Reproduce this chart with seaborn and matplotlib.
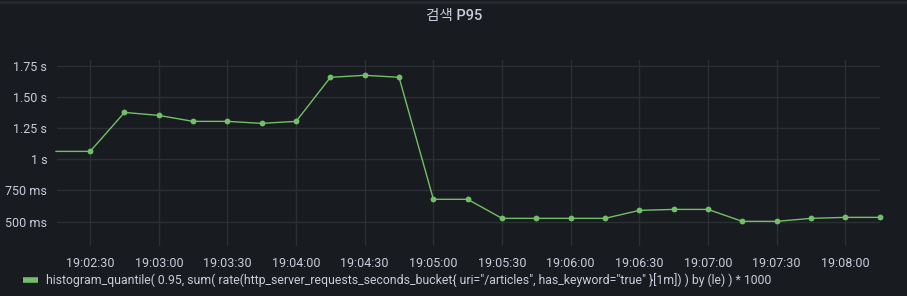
import matplotlib
matplotlib.use("Agg")
import matplotlib.pyplot as plt
import matplotlib.dates as mdates
from matplotlib.lines import Line2D
import seaborn as sns
import pandas as pd

# ---- data ----
times = ["19:02:15", "19:02:30", "19:02:45", "19:03:00", "19:03:15", "19:03:30",
         "19:03:45", "19:04:00", "19:04:15", "19:04:30", "19:04:45", "19:05:00",
         "19:05:15", "19:05:30", "19:05:45", "19:06:00", "19:06:15", "19:06:30",
         "19:06:45", "19:07:00", "19:07:15", "19:07:30", "19:07:45", "19:08:00",
         "19:08:15"]
p95_ms = [1064, 1064, 1377, 1353, 1305, 1305, 1289, 1305, 1659, 1675, 1659, 679,
          679, 526, 526, 526, 526, 590, 598, 598, 502, 502, 526, 534, 534]
y_ticks = [500, 750, 1000, 1250, 1500, 1750]
y_tick_labels = ["500 ms", "750 ms", "1 s", "1.25 s", "1.50 s", "1.75 s"]
title = "검색 P95"
series_name = ('histogram_quantile( 0.95, sum( rate(http_server_requests_seconds_bucket{ '
               'uri="/articles", has_keyword="true" }[1m]) ) by (le) ) * 1000')

BG = "#181b1f"
GRID = "#2c2f34"
TEXT = "#ccccdc"
GREEN = "#73bf69"

sns.set_theme(style="dark")
plt.rcParams["font.family"] = ["Roboto", "Noto Sans CJK KR", "DejaVu Sans"]

df = pd.DataFrame({
    "time": pd.to_datetime(["2024-01-01 " + t for t in times]),
    "value": p95_ms,
})

W, H = 907, 296
fig = plt.figure(figsize=(W / 100, H / 100), dpi=100, facecolor=BG)
ax = fig.add_axes([57 / W, 1 - 246 / H, (880 - 57) / W, (246 - 60) / H])
ax.set_facecolor(BG)

sns.lineplot(data=df, x="time", y="value", ax=ax, color=GREEN, linewidth=1.0,
             marker="o", markersize=4.2, markeredgewidth=0, markevery=list(range(1, len(times))),
             clip_on=False, label=series_name, legend=False)

t0 = pd.Timestamp("2024-01-01 19:02:15.5")
t1 = pd.Timestamp("2024-01-01 19:08:15.2")
ax.set_xlim(t0, t1)
ax.set_ylim(304, 1798)

ax.set_yticks(y_ticks)
ax.set_yticklabels(y_tick_labels)
ax.xaxis.set_major_locator(mdates.SecondLocator(bysecond=[0, 30]))
ax.xaxis.set_major_formatter(mdates.DateFormatter("%H:%M:%S"))

ax.grid(True, color=GRID, linewidth=1.0)
for s in ax.spines.values():
    s.set_visible(False)
ax.tick_params(axis="both", colors=GRID, length=3, width=1.0, labelsize=9,
               labelcolor=TEXT, pad=4)
ax.tick_params(axis="x", pad=5)
ax.set_xlabel("")
ax.set_ylabel("")

fig.text(454 / W, 1 - 16 / H, title, ha="center", va="center", color=TEXT,
         fontsize=10.5, fontweight="medium")

handle = Line2D([0], [0], color=GREEN, linewidth=4, solid_capstyle="butt")
fig.legend([handle], [series_name], loc="center left",
           bbox_to_anchor=(23 / W, 1 - 280 / H), frameon=False, borderpad=0,
           borderaxespad=0, handlelength=1.25, handletextpad=0.65,
           prop={"size": 8.8}, labelcolor=TEXT)

fig.add_artist(Line2D([0, 1], [1 - 1.5 / H, 1 - 1.5 / H], color="#26282d", linewidth=2,
                      transform=fig.transFigure))

fig.savefig("out.png", dpi=100, facecolor=BG)
